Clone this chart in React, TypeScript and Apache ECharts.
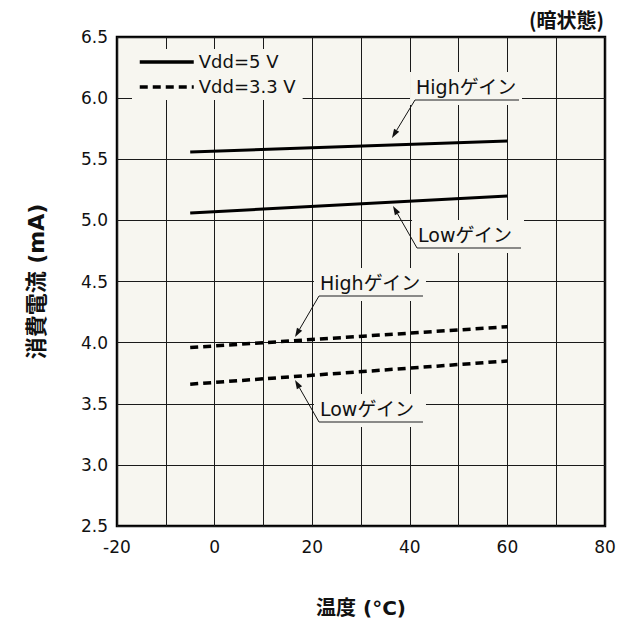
import React, { useEffect, useRef } from "react";
import * as echarts from "echarts";

const tempX = [-5, 60];
const high5 = [5.56, 5.65];
const low5 = [5.06, 5.2];
const high33 = [3.96, 4.13];
const low33 = [3.66, 3.85];

const seriesNames = ["Vdd=5 V", "Vdd=3.3 V"];
const annoLabels = ["Highゲイン", "Lowゲイン", "Highゲイン", "Lowゲイン"];
// underline start (x, y) and arrow tip (x, y), in data units
const annoUx = [41.07, 41.48, 21.39, 21.39];
const annoUy = [5.985, 4.774, 4.381, 3.351];
const annoTx = [36.35, 36.56, 16.48, 16.48];
const annoTy = [5.674, 5.118, 4.046, 3.694];

const FONT = "'DejaVu Sans', 'Noto Sans CJK JP', sans-serif";
const CJK = "'Noto Sans CJK JP', sans-serif";
const BG = "#f7f6f0";

export default function App() {
  const ref = useRef<HTMLDivElement>(null);
  useEffect(() => {
    if (!ref.current) return;
    const chart = echarts.init(ref.current, null, { renderer: "svg" });
    const pair = (ys: number[]) => tempX.map((x, i) => [x, ys[i]]);
    const solid = { color: "#000", width: 3, type: "solid" as const };
    const dashed = { color: "#000", width: 3.5, type: [8, 5] as any };
    chart.setOption({
      animation: false,
      textStyle: { fontFamily: FONT },
      title: {
        text: "(暗状態)",
        right: 12,
        top: 4,
        textStyle: { fontFamily: CJK, fontSize: 20, fontWeight: "bold", color: "#111" },
      },
      legend: {
        data: seriesNames,
        orient: "vertical",
        left: 132,
        top: 49,
        itemWidth: 54,
        itemHeight: 14,
        itemGap: 7,
        padding: [4, 7, 4, 6],
        backgroundColor: BG,
        itemStyle: { opacity: 0 },
        lineStyle: { width: 3.5 },
        textStyle: { fontFamily: FONT, fontSize: 18, color: "#111" },
      },
      grid: {
        left: 117,
        right: 16,
        top: 37,
        bottom: 100,
        show: true,
        backgroundColor: BG,
        borderColor: "#000",
        borderWidth: 2.5,
      },
      xAxis: {
        type: "value",
        min: -20,
        max: 80,
        interval: 10,
        name: "温度 (°C)",
        nameLocation: "middle",
        nameGap: 72,
        nameTextStyle: { fontFamily: FONT, fontSize: 20, fontWeight: "bold", color: "#111" },
        axisLine: { show: false },
        axisTick: { show: false },
        axisLabel: {
          fontFamily: FONT,
          fontSize: 17,
          color: "#111",
          margin: 12,
          formatter: (v: number) => (Math.abs(v % 20) < 1e-9 ? String(v) : ""),
        },
        splitLine: { show: true, lineStyle: { color: "#1a1a1a", width: 1 } },
      },
      yAxis: {
        type: "value",
        min: 2.5,
        max: 6.5,
        interval: 0.5,
        name: "消費電流 (mA)",
        nameLocation: "middle",
        nameRotate: 90,
        nameGap: 70,
        nameTextStyle: { fontFamily: FONT, fontSize: 22, fontWeight: "bold", color: "#111" },
        axisLine: { show: false },
        axisTick: { show: false },
        axisLabel: {
          fontFamily: FONT,
          fontSize: 17,
          color: "#111",
          margin: 9,
          formatter: (v: number) => v.toFixed(1),
        },
        splitLine: { show: true, lineStyle: { color: "#1a1a1a", width: 1 } },
      },
      series: [
        { name: seriesNames[0], type: "line", data: pair(high5), symbol: "none", lineStyle: solid, itemStyle: { color: "#000" } },
        { name: seriesNames[0], type: "line", data: pair(low5), symbol: "none", lineStyle: solid, itemStyle: { color: "#000" } },
        { name: seriesNames[1], type: "line", data: pair(high33), symbol: "none", lineStyle: dashed, itemStyle: { color: "#000" } },
        { name: seriesNames[1], type: "line", data: pair(low33), symbol: "none", lineStyle: dashed, itemStyle: { color: "#000" } },
      ],
    });

    const graphics: any[] = [];
    annoLabels.forEach((label, i) => {
      const u = chart.convertToPixel({ gridIndex: 0 }, [annoUx[i], annoUy[i]]) as number[];
      const t = chart.convertToPixel({ gridIndex: 0 }, [annoTx[i], annoTy[i]]) as number[];
      const dx = t[0] - u[0];
      const dy = t[1] - u[1];
      const len = Math.sqrt(dx * dx + dy * dy);
      const ux = dx / len;
      const uy = dy / len;
      const nx = -uy;
      const ny = ux;
      const ah = 9;
      const aw = 3;
      const bx = t[0] - ux * ah;
      const by = t[1] - uy * ah;
      graphics.push(
        {
          type: "rect",
          z: 10,
          shape: { x: u[0] - 5, y: u[1] - 28, width: 112, height: 33 },
          style: { fill: BG },
        },
        {
          type: "text",
          z: 11,
          x: u[0] + 1,
          y: u[1] - 13,
          style: {
            text: label,
            fill: "#111",
            font: `19px ${FONT}`,
            verticalAlign: "middle",
            align: "left",
          },
        },
        {
          type: "line",
          z: 11,
          shape: { x1: u[0], y1: u[1], x2: u[0] + 104, y2: u[1] },
          style: { stroke: "#666", lineWidth: 1.5 },
        },
        {
          type: "line",
          z: 11,
          shape: { x1: u[0], y1: u[1], x2: bx, y2: by },
          style: { stroke: "#111", lineWidth: 1 },
        },
        {
          type: "polygon",
          z: 11,
          shape: {
            points: [
              [t[0], t[1]],
              [bx + nx * aw, by + ny * aw],
              [bx - nx * aw, by - ny * aw],
            ],
          },
          style: { fill: "#111" },
        }
      );
    });
    chart.setOption({ graphic: graphics });

    return () => chart.dispose();
  }, []);
  return (
    <div
      ref={ref}
      style={{ position: "absolute", left: 0, top: 0, width: 621, height: 626 }}
    />
  );
}
